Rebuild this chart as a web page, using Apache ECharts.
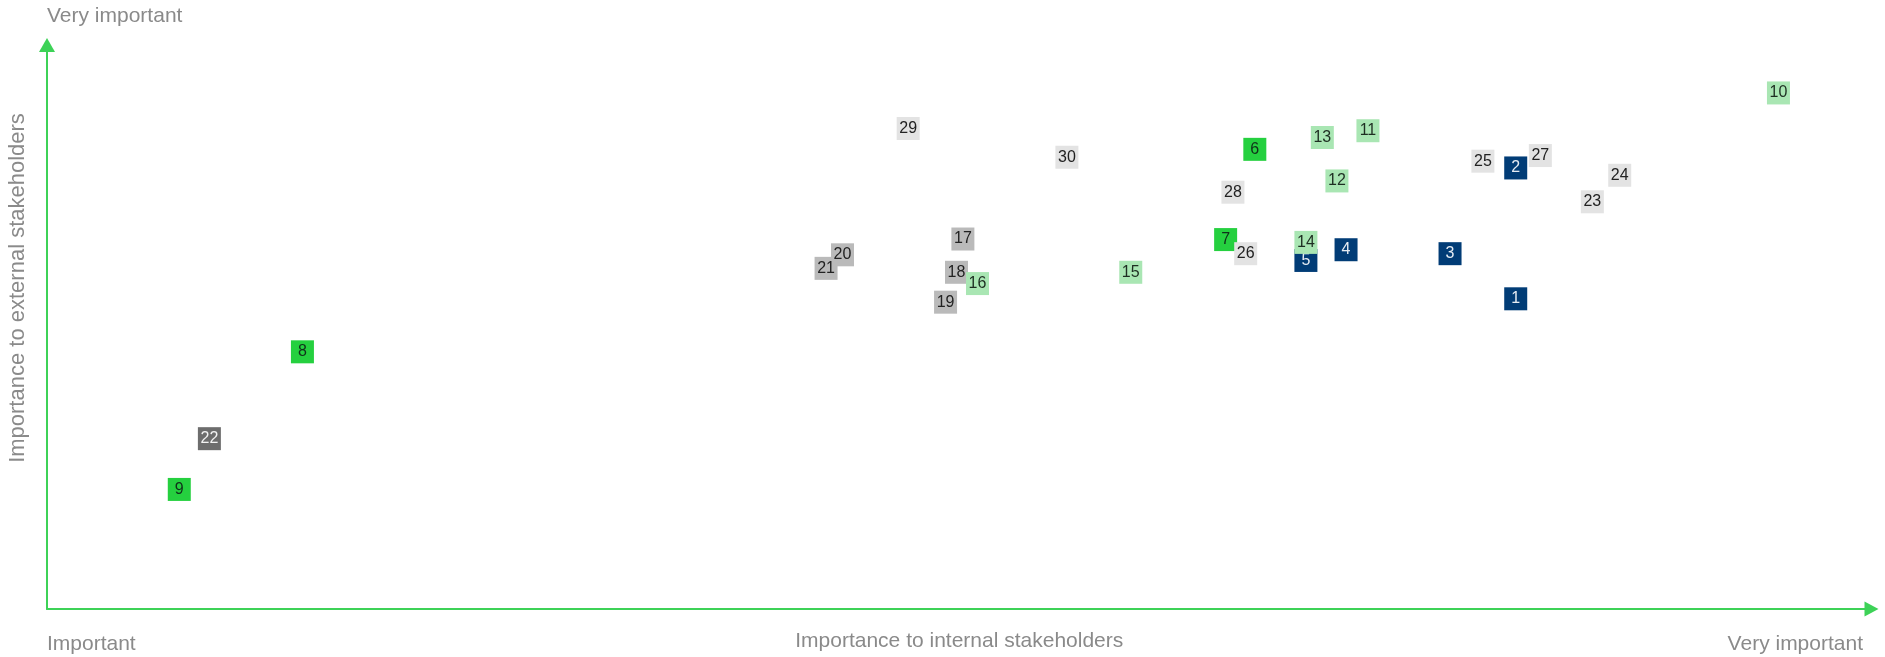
<!DOCTYPE html>
<html>
<head>
<meta charset="utf-8">
<script src="https://cdn.jsdelivr.net/npm/echarts@6/dist/echarts.min.js"></script>
<style>html,body{margin:0;padding:0;background:#fff;}#c{width:1885px;height:657px;}</style>
</head>
<body>
<div id="c"></div>
<script>
// Topic ids and positions (x: importance to internal, y: importance to external; 0-100 scale)
const darkBlueIds = ['1','2','3','4','5'];
const darkBlueX = [80.5, 80.5, 76.9, 71.2, 69.0];
const darkBlueY = [55.0, 78.2, 63.0, 63.7, 61.8];

const brightGreenIds = ['6','7','8','9'];
const brightGreenX = [66.2, 64.6, 14.0, 7.25];
const brightGreenY = [81.5, 65.5, 45.6, 21.2];

const lightGreenIds = ['10','11','12','13','14','15','16'];
const lightGreenX = [94.9, 72.4, 70.7, 69.9, 69.0, 59.4, 51.0];
const lightGreenY = [91.5, 84.8, 75.9, 83.6, 65.0, 59.7, 57.7];

const midGrayIds = ['17','18','19','21','20'];
const midGrayX = [50.2, 49.85, 49.25, 42.7, 43.6];
const midGrayY = [65.6, 59.7, 54.4, 60.4, 62.8];

const darkGrayIds = ['22'];
const darkGrayX = [8.9];
const darkGrayY = [30.2];

const lightGrayIds = ['23','24','25','26','27','28','29','30'];
const lightGrayX = [84.7, 86.2, 78.7, 65.7, 81.85, 65.0, 47.2, 55.9];
const lightGrayY = [72.2, 76.9, 79.4, 63.0, 80.4, 73.9, 85.2, 80.1];

const xTitle = 'Importance to internal stakeholders';
const yTitle = 'Importance to external stakeholders';
const lowLabel = 'Important';
const highLabel = 'Very important';

function pts(ids, xs, ys) { return ids.map((id, i) => ({ value: [xs[i], ys[i], id] })); }

function mkSeries(ids, xs, ys, fill, textColor, z) {
  return {
    type: 'scatter',
    data: pts(ids, xs, ys),
    symbol: 'rect',
    symbolSize: 23,
    z: z,
    itemStyle: { color: fill, opacity: 1 },
    label: {
      show: true, position: 'inside',
      formatter: p => p.value[2],
      color: textColor, fontSize: 16, fontFamily: 'Liberation Sans'
    },
    emphasis: { disabled: true },
    silent: true
  };
}

const chart = echarts.init(document.getElementById('c'), null, { renderer: 'canvas' });
const axisGreen = '#3dd257';
const textGray = '#8a8a8a';
const font = 'Liberation Sans';
chart.setOption({
  backgroundColor: '#ffffff',
  animation: false,
  grid: { left: 47, right: 13.5, top: 45, bottom: 42 },
  xAxis: {
    type: 'value', min: 0, max: 100,
    name: xTitle, nameLocation: 'middle', nameGap: 22,
    nameTextStyle: { color: textGray, fontSize: 21, fontFamily: font },
    axisLine: { show: true, lineStyle: { color: axisGreen, width: 2 }, symbol: ['none', 'triangle'], symbolSize: [15, 14] },
    axisTick: { show: false }, axisLabel: { show: false }, splitLine: { show: false }
  },
  yAxis: {
    type: 'value', min: 0, max: 100,
    axisLine: { show: true, lineStyle: { color: axisGreen, width: 2 }, symbol: ['none', 'triangle'], symbolSize: [16, 14] },
    axisTick: { show: false }, axisLabel: { show: false }, splitLine: { show: false }
  },
  graphic: [
    { type: 'text', left: 47, top: 6, style: { text: highLabel, fill: textGray, fontSize: 21, fontFamily: font } },
    { type: 'text', left: 47, top: 634, style: { text: lowLabel, fill: textGray, fontSize: 21, fontFamily: font } },
    { type: 'text', right: 22, top: 634, style: { text: highLabel, fill: textGray, fontSize: 21, fontFamily: font } },
    { type: 'text', x: 18, y: 288, rotation: Math.PI / 2,
      style: { text: yTitle, fill: textGray, fontSize: 22, fontFamily: font, textAlign: 'center', textVerticalAlign: 'middle' } }
  ],
  series: [
    mkSeries(darkBlueIds, darkBlueX, darkBlueY, '#013c76', '#e6ecf3', 2),
    mkSeries(brightGreenIds, brightGreenX, brightGreenY, '#25d03f', '#10301a', 2),
    mkSeries(midGrayIds, midGrayX, midGrayY, '#bababa', '#222222', 2),
    mkSeries(darkGrayIds, darkGrayX, darkGrayY, '#6d6d6d', '#f2f2f2', 2),
    mkSeries(lightGrayIds, lightGrayX, lightGrayY, '#e3e3e3', '#222222', 3),
    mkSeries(lightGreenIds, lightGreenX, lightGreenY, '#a9e6b3', '#1e2e22', 3)
  ]
});
</script>
</body>
</html>
